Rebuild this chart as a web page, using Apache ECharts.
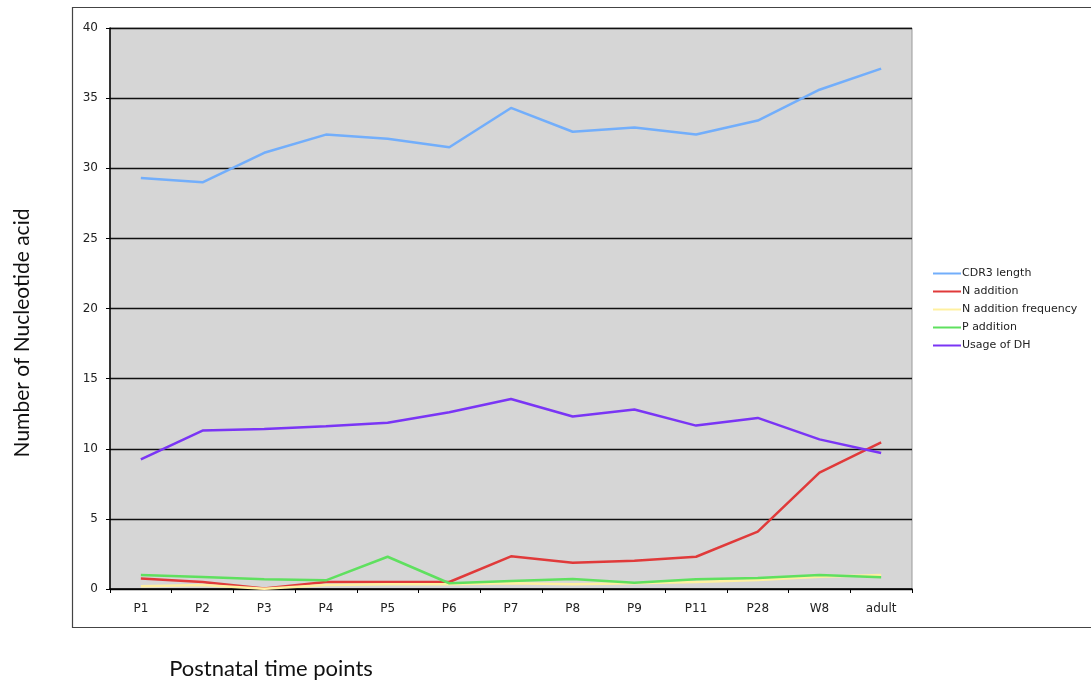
<!DOCTYPE html>
<html>
<head>
<meta charset="utf-8">
<script src="https://cdn.jsdelivr.net/npm/echarts@6/dist/echarts.min.js"></script>
<style>
  html, body { margin: 0; padding: 0; background: #fff; }
  #chart { width: 1091px; height: 687px; }
</style>
</head>
<body>
<div id="chart"></div>
<script>
// Postnatal time points
const timePoints = ['P1', 'P2', 'P3', 'P4', 'P5', 'P6', 'P7', 'P8', 'P9', 'P11', 'P28', 'W8', 'adult'];

// Nucleotide counts per time point
const cdr3Length   = [29.3, 29.0, 31.1, 32.4, 32.1, 31.5, 34.3, 32.6, 32.9, 32.4, 33.4, 35.6, 37.1];
const nAddition    = [0.74, 0.5, 0.03, 0.5, 0.5, 0.5, 2.33, 1.88, 2.02, 2.3, 4.09, 8.3, 10.46];
const nAdditionFreq = [0.19, 0.28, 0.02, 0.28, 0.33, 0.33, 0.41, 0.33, 0.41, 0.5, 0.64, 0.88, 1.0];
const pAddition    = [1.0, 0.85, 0.69, 0.62, 2.3, 0.41, 0.57, 0.71, 0.45, 0.69, 0.78, 1.0, 0.83];
const usageOfDH    = [9.25, 11.3, 11.4, 11.6, 11.85, 12.6, 13.55, 12.3, 12.8, 11.65, 12.2, 10.67, 9.7];

const yTicks = [0, 5, 10, 15, 20, 25, 30, 35, 40];

const seriesDefs = [
  { name: 'CDR3 length', data: cdr3Length, color: '#72aefb' },
  { name: 'N addition', data: nAddition, color: '#e03a3a' },
  { name: 'N addition frequency', data: nAdditionFreq, color: '#fff0a0' },
  { name: 'P addition', data: pAddition, color: '#5fe05f' },
  { name: 'Usage of DH', data: usageOfDH, color: '#7a35f5' }
];

const chart = echarts.init(document.getElementById('chart'));

chart.setOption({
  animation: false,
  grid: {
    left: 110, right: 179, top: 28, bottom: 98,
    show: true, backgroundColor: '#d6d6d6', borderColor: '#9a9a9a', borderWidth: 1
  },
  legend: {
    orient: 'vertical',
    left: 928, top: 263,
    itemWidth: 28, itemHeight: 2, itemGap: 7,
    icon: 'rect',
    textStyle: { fontFamily: 'DejaVu Sans', fontSize: 11, color: '#222', padding: [0, 0, 0, -4] },
    data: seriesDefs.map(s => s.name)
  },
  xAxis: {
    type: 'category',
    data: timePoints,
    boundaryGap: true,
    axisLine: { lineStyle: { color: '#000', width: 1.5 } },
    axisTick: { show: true, length: 4, lineStyle: { color: '#000' }, alignWithLabel: false },
    axisLabel: { fontFamily: 'DejaVu Sans', fontSize: 12, color: '#222', margin: 14 }
  },
  yAxis: {
    type: 'value',
    min: yTicks[0], max: yTicks[yTicks.length - 1], interval: 5,
    axisLine: { show: true, lineStyle: { color: '#000', width: 1.5 } },
    axisTick: { show: true, length: 4, lineStyle: { color: '#000' } },
    axisLabel: { fontFamily: 'DejaVu Sans', fontSize: 12, color: '#222', margin: 12 },
    splitLine: { show: true, lineStyle: { color: '#111', width: 1.3 } }
  },
  series: seriesDefs.map(s => ({
    name: s.name,
    type: 'line',
    data: s.data,
    symbol: 'none',
    color: s.color,
    lineStyle: { color: s.color, width: 2.5 },
    z: 3
  })),
  graphic: [
    {
      type: 'rect',
      shape: { x: 72.5, y: 7.5, width: 1030, height: 620 },
      style: { fill: null, stroke: '#444', lineWidth: 1.2 },
      z: -1, silent: true
    },
    {
      type: 'text',
      x: 22, y: 333, rotation: Math.PI / 2,
      style: {
        text: 'Number of Nucleotide acid',
        font: '21px Lato, "Open Sans", sans-serif',
        fill: '#111', align: 'center', verticalAlign: 'middle'
      }
    },
    {
      type: 'text',
      x: 271, y: 669,
      style: {
        text: 'Postnatal time points',
        font: '22px Lato, "Open Sans", sans-serif',
        fill: '#111', align: 'center', verticalAlign: 'middle'
      }
    }
  ]
});
</script>
</body>
</html>
